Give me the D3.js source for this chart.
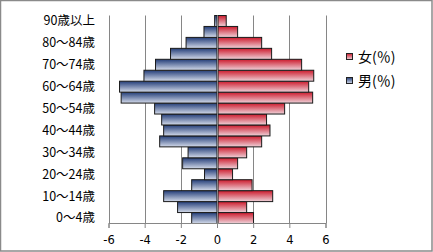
<!DOCTYPE html>
<html>
<head>
<meta charset="utf-8">
<script src="https://cdn.jsdelivr.net/npm/d3@7"></script>
<style>
  body { margin: 0; background: #fff; }
  text { font-family: "Noto Sans CJK JP", "DejaVu Sans", sans-serif; }
</style>
</head>
<body>
<div id="chart"></div>
<script>
// age groups, bottom to top
var ages = ['0～4歳', '5～9歳', '10～14歳', '15～19歳', '20～24歳', '25～29歳', '30～34歳',
  '35～39歳', '40～44歳', '45～49歳', '50～54歳', '55～59歳', '60～64歳', '65～69歳',
  '70～74歳', '75～79歳', '80～84歳', '85～89歳', '90歳以上'];
var male = [-1.40, -2.18, -2.95, -1.40, -0.69, -1.90, -1.60, -3.17, -2.95, -3.06,
  -3.45, -5.30, -5.39, -4.04, -3.40, -2.57, -1.71, -0.72, -0.13];
var female = [2.02, 1.64, 3.08, 1.94, 0.86, 1.14, 1.64, 2.47, 2.93, 2.74,
  3.74, 5.29, 5.07, 5.35, 4.68, 3.02, 2.47, 1.14, 0.51];
var x_ticks = [-6, -4, -2, 0, 2, 4, 6];
var legend_labels = ['女(％)', '男(％)'];

var width = 433;
var height = 252;

var svg = d3.select('#chart')
  .append('svg')
  .attr('width', width)
  .attr('height', height);

// gradients
var defs = svg.append('defs');
function grad(id, top, bottom) {
  var g = defs.append('linearGradient')
    .attr('id', id)
    .attr('x1', 0).attr('y1', 0)
    .attr('x2', 0).attr('y2', 1);
  g.append('stop').attr('offset', '0%').attr('stop-color', top);
  g.append('stop').attr('offset', '100%').attr('stop-color', bottom);
}
grad('g_male', '#233d78', '#d4dbea');
grad('g_female', '#cc1a2c', '#efd3da');

// outer border
svg.append('rect')
  .attr('x', 0.5).attr('y', 0.5)
  .attr('width', width - 1.5).attr('height', height - 1.5)
  .attr('fill', '#fff')
  .attr('stroke', '#8a8a8a')
  .attr('stroke-width', 1.5);

var x_scale = d3.scaleLinear()
  .domain([-6, 6])
  .range([108.5, 325.5]);

var y_scale = d3.scaleBand()
  .domain(ages.slice().reverse())
  .range([15.5, 223.5])
  .padding(0);

// gridlines
svg.selectAll('line.grid')
  .data(x_ticks)
  .enter()
  .append('line')
  .attr('class', 'grid')
  .attr('x1', function (d) { return Math.round(x_scale(d)) + 0.5; })
  .attr('x2', function (d) { return Math.round(x_scale(d)) + 0.5; })
  .attr('y1', 15.5)
  .attr('y2', 223.5)
  .attr('stroke', '#868686');

// bars
svg.selectAll('rect.male')
  .data(male)
  .enter()
  .append('rect')
  .attr('class', 'male')
  .attr('x', function (d) { return x_scale(d); })
  .attr('y', function (d, i) { return y_scale(ages[i]); })
  .attr('width', function (d) { return x_scale(0) - x_scale(d); })
  .attr('height', y_scale.bandwidth())
  .attr('fill', 'url(#g_male)')
  .attr('stroke', '#1a1a1a')
  .attr('stroke-width', 1);

svg.selectAll('rect.female')
  .data(female)
  .enter()
  .append('rect')
  .attr('class', 'female')
  .attr('x', x_scale(0) + 1)
  .attr('y', function (d, i) { return y_scale(ages[i]); })
  .attr('width', function (d) { return x_scale(d) - x_scale(0) - 1; })
  .attr('height', y_scale.bandwidth())
  .attr('fill', 'url(#g_female)')
  .attr('stroke', '#1a1a1a')
  .attr('stroke-width', 1);

// zero line
svg.append('line')
  .attr('x1', Math.round(x_scale(0)) + 0.5)
  .attr('x2', Math.round(x_scale(0)) + 0.5)
  .attr('y1', 15.5)
  .attr('y2', 223.5)
  .attr('stroke', '#868686');

// x axis
var x_axis = d3.axisBottom(x_scale)
  .tickValues(x_ticks)
  .tickSize(5)
  .tickFormat(d3.format('d'));
var gx = svg.append('g')
  .attr('transform', 'translate(0,223)')
  .call(x_axis);
gx.select('.domain').attr('stroke', '#868686');
gx.selectAll('.tick line').attr('stroke', '#868686');
gx.selectAll('.tick text')
  .attr('fill', '#000')
  .attr('y', 13)
  .attr('dy', '0.71em')
  .style('font-family', 'Verdana, "DejaVu Sans", sans-serif')
  .style('font-size', '11.5px')
  .text(function (d) { return d < 0 ? '-' + Math.abs(d) : d; });

// y labels (every other group)
svg.selectAll('text.ylab')
  .data(ages.filter(function (d, i) { return i % 2 === 0; }))
  .enter()
  .append('text')
  .attr('class', 'ylab')
  .attr('x', 95)
  .attr('y', function (d) { return y_scale(d) + y_scale.bandwidth() / 2; })
  .attr('dy', '0.35em')
  .attr('text-anchor', 'end')
  .style('font-size', '12.5px')
  .text(function (d) { return d; });

// legend
var legend_colors = ['url(#g_female)', 'url(#g_male)'];
var lg = svg.selectAll('g.legend')
  .data(legend_labels)
  .enter()
  .append('g')
  .attr('class', 'legend')
  .attr('transform', function (d, i) { return 'translate(346,' + (53 + i * 24) + ')'; });
lg.append('rect')
  .attr('x', 0.5).attr('y', 0.5)
  .attr('width', 6).attr('height', 6)
  .attr('fill', function (d, i) { return legend_colors[i]; })
  .attr('stroke', '#222');
lg.append('text')
  .attr('x', 12)
  .attr('y', 4)
  .attr('dy', '0.35em')
  .style('font-size', '14px')
  .text(function (d) { return d; });
</script>
</body>
</html>
